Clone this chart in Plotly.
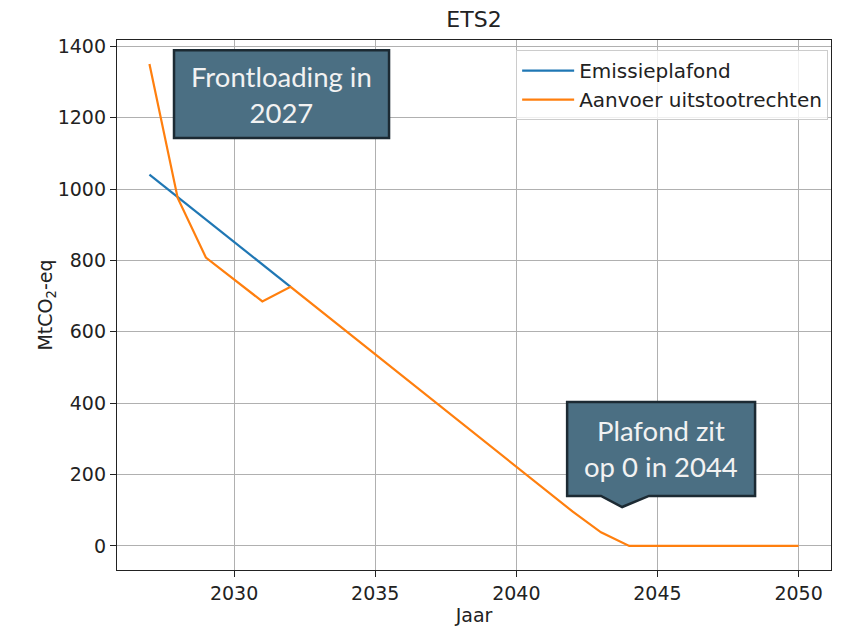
import plotly.graph_objects as go

# data
years = list(range(2027, 2051))
plafond = [1040, 977, 914, 851, 788, 726, 663, 600, 537, 474, 411, 348,
           285, 222, 159, 96, 38, 0, 0, 0, 0, 0, 0, 0]
aanvoer = [1350, 975, 808, 746, 685, 726, 663, 600, 537, 474, 411, 348,
           285, 222, 159, 96, 38, 0, 0, 0, 0, 0, 0, 0]

x_ticks = [2030, 2035, 2040, 2045, 2050]
y_ticks = [0, 200, 400, 600, 800, 1000, 1200, 1400]

BOX_FILL = "#4b6f83"
BOX_LINE = "#1c2a33"
TXT = "DejaVu Sans"

fig = go.Figure()
fig.add_trace(go.Scatter(x=years[:6], y=plafond[:6], mode="lines", name="Emissieplafond",
                         line=dict(color="#1f77b4", width=2.2)))
fig.add_trace(go.Scatter(x=years, y=aanvoer, mode="lines", name="Aanvoer uitstootrechten",
                         line=dict(color="#ff7f0e", width=2.2)))

# callout boxes (decoration, placed in data units)
fig.add_shape(type="path", xref="x", yref="y",
              path="M 2027.87,1389 L 2035.49,1389 L 2035.49,1143 L 2027.87,1143 Z",
              fillcolor=BOX_FILL, line=dict(color=BOX_LINE, width=2.5), layer="above")
fig.add_shape(type="path", xref="x", yref="y",
              path=("M 2041.8,403 L 2048.46,403 L 2048.46,140 L 2044.7,140 "
                    "L 2043.75,109 L 2043.0,140 L 2041.8,140 Z"),
              fillcolor=BOX_FILL, line=dict(color=BOX_LINE, width=2.5), layer="above")

fig.add_annotation(x=2031.68, y=1266, xref="x", yref="y", showarrow=False,
                   text="Frontloading in<br>2027",
                   font=dict(family="Lato", size=27.5, color="#f2f2f2"))
fig.add_annotation(x=2045.13, y=273, xref="x", yref="y", showarrow=False,
                   text="Plafond zit<br>op 0 in 2044",
                   font=dict(family="Lato", size=27.5, color="#f2f2f2"))

axis_common = dict(
    showline=True, mirror=True, linecolor="#222222", linewidth=1.3,
    ticks="outside", ticklen=6, tickcolor="#222222", tickwidth=1.2,
    showgrid=True, gridcolor="#b0b0b0", gridwidth=1, zeroline=False,
    automargin=False,
    tickfont=dict(family=TXT, size=19, color="#222222"),
)
fig.update_xaxes(range=[2025.85, 2051.15], tickvals=x_ticks,
                 title=dict(text="Jaar", font=dict(family=TXT, size=19, color="#222222"),
                            standoff=4),
                 **axis_common)
fig.update_yaxes(range=[-67.5, 1417.5], tickvals=y_ticks,
                 title=dict(text="MtCO<sub>2</sub>-eq",
                            font=dict(family=TXT, size=19, color="#222222"), standoff=0),
                 **axis_common)

# the page body adds an 8px offset, margins compensate for it
fig.update_layout(
    width=849, height=632,
    margin=dict(l=109, r=26, t=32, b=70),
    paper_bgcolor="white", plot_bgcolor="white",
    title=dict(text="ETS2", x=0.5, xref="paper", y=1 - 11 / 632, yref="container",
               yanchor="middle", automargin=False,
               font=dict(family=TXT, size=22, color="#222222")),
    legend=dict(x=0.996, y=0.981, xanchor="right", yanchor="top",
                bgcolor="rgba(255,255,255,0.8)", bordercolor="#cccccc", borderwidth=1,
                font=dict(family=TXT, size=20, color="#222222"), itemwidth=52,
                tracegroupgap=0),
    showlegend=True,
)

fig.write_html("out.html")
